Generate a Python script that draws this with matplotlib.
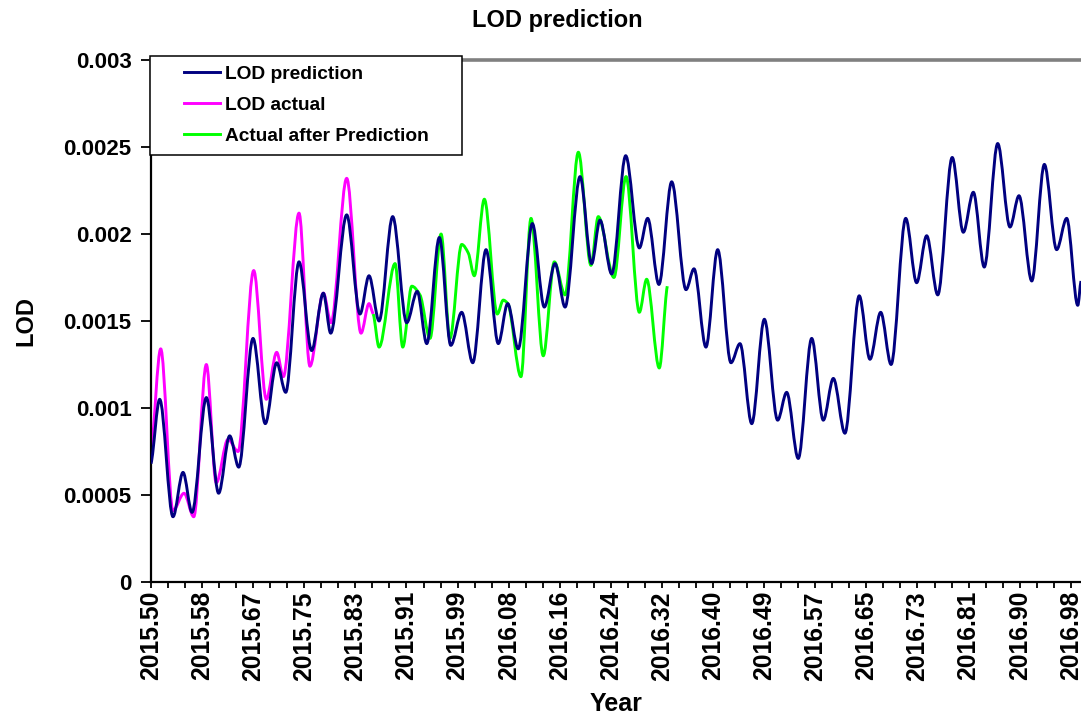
import matplotlib
matplotlib.use('Agg')
import numpy as np
import matplotlib.pyplot as plt
from matplotlib.legend_handler import HandlerLine2D
from matplotlib.ticker import MultipleLocator
from matplotlib.path import Path
from matplotlib.patches import PathPatch

# ---------------- data (day offset from 2015.50, LOD value) ----------------
pred_day = [0, 5.1, 12.9, 18.8, 24.1, 32.5, 39.7, 46.2, 51.5, 59.9, 67.1, 73.8, 79.1,
            86.9, 94.3, 101.2, 105.5, 114.9, 122.7, 128.0, 133.9, 141.9, 150.1, 156.3,
            161.9, 169.3, 176.0, 182.4, 188.9, 196.7, 203.9, 209.4, 215.6, 223.9, 230.9,
            237.2, 243.1, 251.9, 258.7, 263.6, 270.5, 278.7, 286.7, 291.6, 298.2, 305.7,
            314.1, 318.8, 325.8, 332.7, 340.5, 345.8, 352.7, 360.1, 367.9, 373.2, 380.0,
            387.9, 394.7, 400.6, 407.4, 415.8, 422.1, 428.4, 434.5, 443.1, 449.5, 455.4,
            461.9, 470.4, 476.9, 482.8, 489.2, 497.1, 504.3, 509.6, 517.1, 524.5, 531.7,
            537.6, 544.1, 546.0]
pred_val = [0.00068, 0.00105, 0.000375, 0.00063, 0.00040, 0.00106, 0.00051, 0.00084,
            0.00066, 0.00140, 0.00091, 0.00126, 0.00109, 0.00184, 0.00133, 0.00166,
            0.00143, 0.00211, 0.00154, 0.00176, 0.00150, 0.00210, 0.00149, 0.00167,
            0.00137, 0.00198, 0.00136, 0.00155, 0.00126, 0.00191, 0.00137, 0.00160,
            0.00134, 0.00206, 0.00158, 0.00183, 0.00158, 0.00233, 0.00183, 0.00208,
            0.00177, 0.00245, 0.00192, 0.00209, 0.00171, 0.00230, 0.00168, 0.00180,
            0.00135, 0.00191, 0.00126, 0.00137, 0.00091, 0.00151, 0.00093, 0.00109,
            0.00071, 0.00140, 0.00093, 0.00117, 0.000855, 0.001645, 0.00128, 0.00155,
            0.00125, 0.00209, 0.00172, 0.00199, 0.00165, 0.00244, 0.00201, 0.00224,
            0.00181, 0.00252, 0.00204, 0.00222, 0.00173, 0.00240, 0.00191, 0.00209,
            0.00159, 0.00173]

act_day = [0, 5.7, 12.9, 19.4, 25.1, 32.5, 38.3, 45.2, 51.1, 60.3, 67.7, 73.8, 77.7,
           86.9, 93.3, 101.2, 105.7, 114.9, 123.3, 128.0, 130.5]
act_val = [0.00074, 0.00134, 0.00041, 0.00051, 0.000375, 0.00125, 0.00057, 0.00082,
           0.00075, 0.00179, 0.00105, 0.00132, 0.00118, 0.00212, 0.00124, 0.00166,
           0.00149, 0.00232, 0.00143, 0.00160, 0.00154]

after_day = [130.5, 133.9, 143.3, 147.8, 153.1, 157.9, 163.8, 170.3, 175.5, 182.4,
             186.3, 189.8, 195.7, 203.3, 206.8, 209.5, 217.2, 223.1, 230.3, 236.8,
             243.1, 250.9, 258.3, 262.6, 271.8, 278.9, 286.7, 291.0, 298.4, 303.1]
after_val = [0.00154, 0.00135, 0.00183, 0.00135, 0.00170, 0.00165, 0.00140, 0.00200,
             0.00140, 0.00194, 0.00189, 0.00176, 0.00220, 0.00154, 0.00162, 0.00160,
             0.00118, 0.00209, 0.00130, 0.00184, 0.00165, 0.00247, 0.00182, 0.00210,
             0.00175, 0.00233, 0.00155, 0.00174, 0.00123, 0.00170]

x_tick_labels = ['2015.50', '2015.58', '2015.67', '2015.75', '2015.83', '2015.91',
                 '2015.99', '2016.08', '2016.16', '2016.24', '2016.32', '2016.40',
                 '2016.49', '2016.57', '2016.65', '2016.73', '2016.81', '2016.90',
                 '2016.98']
y_ticks = [0, 0.0005, 0.001, 0.0015, 0.002, 0.0025, 0.003]
y_tick_labels = ['0', '0.0005', '0.001', '0.0015', '0.002', '0.0025', '0.003']

series = [
    (pred_day, pred_val, '#000080', 'LOD prediction', 3),
    (act_day, act_val, '#FF00FF', 'LOD actual', 2),
    (after_day, after_val, '#00FF00', 'Actual after Prediction', 2),
]

# ---------------- figure ----------------
plt.rcParams['font.family'] = ['Liberation Sans', 'DejaVu Sans']
plt.rcParams['font.weight'] = 'bold'

W, H = 1081, 718
fig = plt.figure(figsize=(W / 100, H / 100), dpi=100)
fig.patch.set_facecolor('white')
ax = fig.add_axes([151 / W, (H - 582) / H, (1081 - 151) / W, (582 - 60) / H])


def smooth_path(x, y):
    """Smoothed line (like a spreadsheet 'smoothed line') through the data points,
    using shape-preserving (monotone) tangents and cubic Bezier segments."""
    x = np.asarray(x, float)
    y = np.asarray(y, float)
    h = np.diff(x)
    d = np.diff(y) / h
    m = np.zeros_like(y)
    for i in range(1, len(y) - 1):
        if d[i - 1] * d[i] > 0:
            w1 = 2 * h[i] + h[i - 1]
            w2 = h[i] + 2 * h[i - 1]
            m[i] = (w1 + w2) / (w1 / d[i - 1] + w2 / d[i])
    m[0] = d[0] * 0.5
    m[-1] = d[-1] * 0.5
    verts = [(x[0], y[0])]
    codes = [Path.MOVETO]
    for i in range(len(x) - 1):
        t = h[i] / 3.0
        verts += [(x[i] + t, y[i] + m[i] * t), (x[i + 1] - t, y[i + 1] - m[i + 1] * t),
                  (x[i + 1], y[i + 1])]
        codes += [Path.CURVE4] * 3
    return Path(verts, codes)


handles = []
for xs, ys, col, lab, z in series:
    patch = PathPatch(smooth_path(xs, ys), facecolor='none', edgecolor=col, lw=2.1,
                      joinstyle='round', capstyle='butt', zorder=z)
    ax.add_patch(patch)
    line, = ax.plot([], [], color=col, lw=2.1, label=lab)
    handles.append(line)

ax.set_xlim(0, 546)
ax.set_ylim(0, 0.003)
ax.set_yticks(y_ticks)
ax.set_yticklabels(y_tick_labels, fontsize=16, fontweight='bold')
ax.set_xticks([30 * i for i in range(len(x_tick_labels))])
ax.set_xticklabels(x_tick_labels, rotation=90, fontsize=17.8, fontweight='bold')
ax.xaxis.set_minor_locator(MultipleLocator(10))

ax.tick_params(axis='y', direction='out', length=7, width=1.3, pad=7, colors='black')
ax.tick_params(axis='x', which='both', direction='out', length=4.5, width=1.3, pad=2,
               colors='black')

for side in ('left', 'bottom'):
    ax.spines[side].set_color('black')
    ax.spines[side].set_linewidth(1.6)
ax.spines['right'].set_visible(False)
ax.spines['top'].set_color('#808080')
ax.spines['top'].set_linewidth(2.6)

ax.set_xlabel('Year', fontsize=18, fontweight='bold', labelpad=8)
ax.set_ylabel('LOD', fontsize=17, fontweight='bold', labelpad=19)
fig.text(557 / W, 1 - 20 / H, 'LOD prediction', fontsize=17, fontweight='bold',
         ha='center', va='center')


class OffsetLine(HandlerLine2D):
    def get_xdata(self, legend, xdescent, ydescent, width, height, fontsize):
        xd = [-xdescent + 0.41 * width, -xdescent + width]
        return xd, [-xdescent + 0.7 * width]


leg = ax.legend(handles=handles, loc='upper left',
                bbox_to_anchor=(150 / W, 1 - 56 / H, (462 - 150) / W, 0.0),
                bbox_transform=fig.transFigure, mode='expand', borderaxespad=0,
                prop={'weight': 'bold', 'size': 13.8},
                handlelength=3.15, handletextpad=0.26, labelspacing=0.71,
                borderpad=0.5, fancybox=False, framealpha=1, edgecolor='black',
                handler_map={matplotlib.lines.Line2D: OffsetLine()})
leg.get_frame().set_linewidth(1.1)
leg.set_zorder(10)

fig.savefig('out.png', dpi=100, facecolor='white')
